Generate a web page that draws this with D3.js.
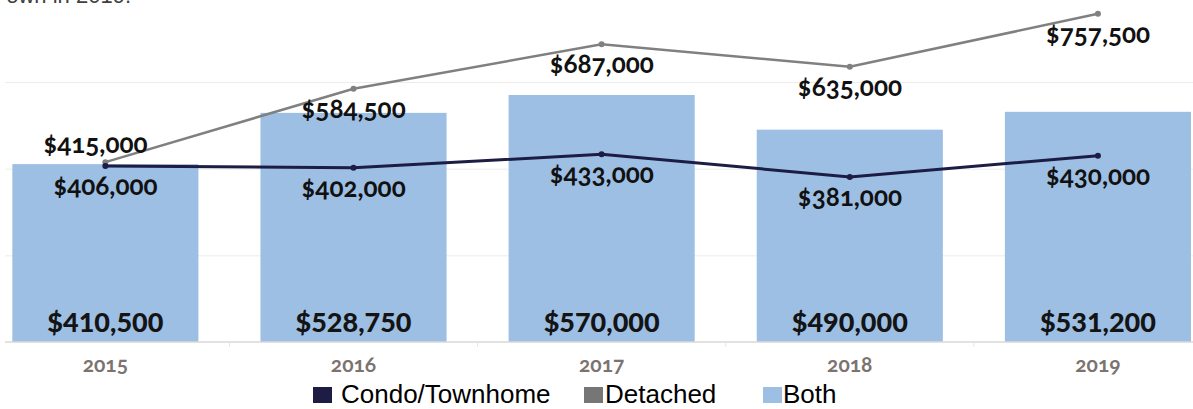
<!DOCTYPE html>
<html>
<head>
<meta charset="utf-8">
<script src="https://cdn.jsdelivr.net/npm/d3@7"></script>
<style>
  body { margin: 0; background: #fff; }
  svg { display: block; }
  .lbl { font-family: Lato, "Open Sans", sans-serif; font-weight: bold; font-variant-numeric: oldstyle-nums; }
</style>
</head>
<body>
<svg id="chart" width="1193" height="409"></svg>
<script>
// chart values
var years = ['2015', '2016', '2017', '2018', '2019'];
var condo = [406000, 402000, 433000, 381000, 430000];
var detached = [415000, 584500, 687000, 635000, 757500];
var both = [410500, 528750, 570000, 490000, 531200];
var gridTicks = [200000, 400000, 600000];
var legendItems = ['Condo/Townhome', 'Detached', 'Both'];

var colors = {
    condo: '#1c1c45',
    detached: '#808080',
    both: '#9dbfe4'
};

var svg = d3.select('#chart');

var x = d3.scaleBand()
    .domain(years)
    .range([-18.7, 1222])
    .paddingInner(0.25)
    .paddingOuter(0.125);

var y = d3.scaleLinear()
    .domain([0, 600000])
    .range([342, 82]);

function fmt(v) {
    return '$' + d3.format(',')(v);
}

// title, mostly cut off by the top edge like in the source image
svg.append('text')
    .attr('x', 131)
    .attr('y', 3)
    .attr('text-anchor', 'end')
    .style('font-family', 'Arial, "Liberation Sans", sans-serif')
    .style('font-size', '22px')
    .style('fill', '#404040')
    .text('own in 2019.');

// gridlines
var grid = svg.append('g')
    .attr('transform', 'translate(5,0)')
    .call(d3.axisLeft(y).tickValues(gridTicks).tickSize(-1188).tickFormat(''));
grid.select('.domain').remove();
grid.selectAll('line').attr('stroke', '#ececec').attr('stroke-width', 1);

// bars
svg.append('g').selectAll('rect')
    .data(both)
    .join('rect')
    .attr('x', function (d, i) { return x(years[i]); })
    .attr('y', function (d) { return y(d); })
    .attr('width', x.bandwidth())
    .attr('height', function (d) { return y(0) - y(d); })
    .attr('fill', colors.both);

// x axis
var xAxis = svg.append('g')
    .attr('transform', 'translate(0,' + y(0) + ')')
    .call(d3.axisBottom(x).tickSize(0).tickPadding(15));
xAxis.select('.domain').remove();
xAxis.selectAll('text')
    .attr('class', 'lbl')
    .attr('dy', '0.71em')
    .style('font-size', '21px')
    .style('fill', '#7a7370');

svg.append('line')
    .attr('x1', 5).attr('x2', 1193)
    .attr('y1', y(0)).attr('y2', y(0))
    .attr('stroke', '#d9d9d9')
    .attr('stroke-width', 1.5);

// small ticks between categories
svg.append('g').selectAll('line')
    .data(years.slice(1))
    .join('line')
    .attr('x1', function (d) { return x(d) - x.step() * x.paddingInner() / 2; })
    .attr('x2', function (d) { return x(d) - x.step() * x.paddingInner() / 2; })
    .attr('y1', y(0)).attr('y2', y(0) + 5)
    .attr('stroke', '#e6e6e6');

var cx = function (d, i) { return x(years[i]) + x.bandwidth() / 2; };

function drawLine(values, color, width) {
    var line = d3.line()
        .x(cx)
        .y(function (d) { return y(d); });
    svg.append('path')
        .datum(values)
        .attr('d', line)
        .attr('fill', 'none')
        .attr('stroke', color)
        .attr('stroke-width', width);
    svg.append('g').selectAll('circle')
        .data(values)
        .join('circle')
        .attr('cx', cx)
        .attr('cy', function (d) { return y(d); })
        .attr('r', 3)
        .attr('fill', color);
}

drawLine(detached, colors.detached, 2.5);
drawLine(condo, colors.condo, 3);

// line labels
svg.append('g').selectAll('text')
    .data(detached)
    .join('text')
    .attr('class', 'lbl')
    .attr('x', function (d, i) { return i === 0 ? cx(d, i) - 10 : cx(d, i); })
    .attr('y', function (d, i) { return i === 0 ? y(d) - 9 : y(d) + 29; })
    .attr('text-anchor', 'middle')
    .style('font-size', '26px')
    .style('fill', '#111')
    .text(fmt);

svg.append('g').selectAll('text')
    .data(condo)
    .join('text')
    .attr('class', 'lbl')
    .attr('x', cx)
    .attr('y', function (d) { return y(d) + 29; })
    .attr('text-anchor', 'middle')
    .style('font-size', '26px')
    .style('fill', '#111')
    .text(fmt);

// bar labels
svg.append('g').selectAll('text')
    .data(both)
    .join('text')
    .attr('x', cx)
    .attr('y', 332)
    .attr('text-anchor', 'middle')
    .style('font-family', 'Lato, "Open Sans", sans-serif')
    .style('font-weight', '900')
    .style('font-size', '27px')
    .style('fill', '#141414')
    .text(fmt);

// legend
var legendX = [[313, 341], [584, 605], [763, 783]];
var legendColors = [colors.condo, '#767676', colors.both];
var legend = svg.append('g');
legendItems.forEach(function (name, i) {
    legend.append('rect')
        .attr('x', legendX[i][0])
        .attr('y', 387)
        .attr('width', 19)
        .attr('height', 16)
        .attr('fill', legendColors[i]);
    legend.append('text')
        .attr('x', legendX[i][1])
        .attr('y', 403)
        .style('font-family', 'Arial, "Liberation Sans", sans-serif')
        .style('font-size', '26px')
        .style('fill', '#000')
        .text(name);
});
</script>
</body>
</html>
